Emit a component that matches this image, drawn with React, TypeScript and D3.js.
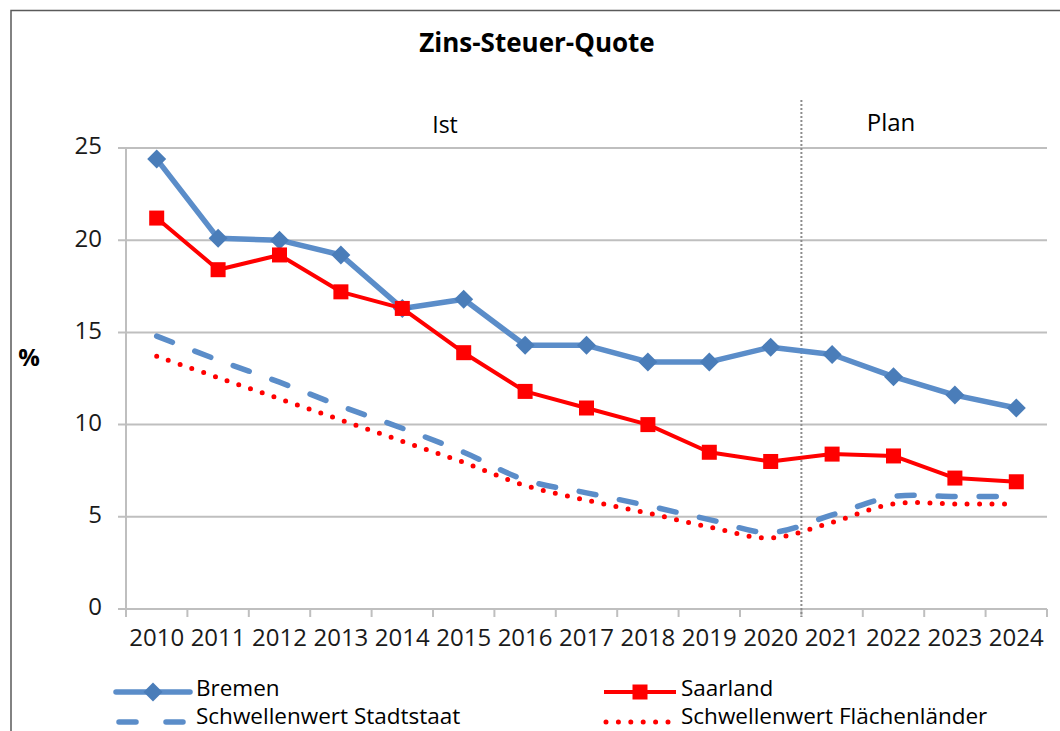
import React from "react";
import * as d3 from "d3";

const years = ["2010","2011","2012","2013","2014","2015","2016","2017","2018","2019","2020","2021","2022","2023","2024"];
const bremen = [24.4,20.1,20.0,19.2,16.3,16.8,14.3,14.3,13.4,13.4,14.2,13.8,12.6,11.6,10.9];
const saarland = [21.2,18.4,19.2,17.2,16.3,13.9,11.8,10.9,10.0,8.5,8.0,8.4,8.3,7.1,6.9];
const stadtstaat = [14.8,13.5,12.3,11.0,9.8,8.5,7.0,6.3,5.6,4.85,4.15,5.1,6.1,6.1,6.1];
const flaechen = [13.7,12.55,11.4,10.25,9.1,7.95,6.7,5.9,5.2,4.45,3.85,4.7,5.7,5.7,5.7];
const yTicks = [0,5,10,15,20,25];
const seriesNames = ["Bremen","Saarland","Schwellenwert Stadtstaat","Schwellenwert Flächenländer"];
const title = "Zins-Steuer-Quote";
const periodLabels = ["Ist","Plan"];

const FONT = "'Open Sans', 'DejaVu Sans', sans-serif";
const BLUE_LINE = "#5B8DC9";
const BLUE_MARK = "#4A7DB9";
const RED = "#FF0000";
const GRID = "#BFBFBF";

export default function App() {
  const left = 126, right = 1047, top = 148, bottom = 609;
  const x = d3.scaleBand<string>().domain(years).range([left, right]).paddingInner(0).paddingOuter(0);
  const bw = x.bandwidth();
  const cx = (i: number) => (x(years[i]) as number) + bw / 2;
  const y = d3.scaleLinear().domain([0, 25]).range([bottom, top]);

  const straight = d3.line<number>().x((_, i) => cx(i)).y(d => y(d));
  const smooth = d3.line<number>().x((_, i) => cx(i)).y(d => y(d)).curve(d3.curveCatmullRom.alpha(0.5));

  const dividerX = (x("2021") as number);
  const boundaries = d3.range(years.length + 1).map(i => left + i * bw);

  const diamond = (px: number, py: number, r: number) =>
    `M${px},${py - r}L${px + r},${py}L${px},${py + r}L${px - r},${py}Z`;

  const legRow1 = 690;
  const legRow2 = 718;
  const legFont = 22.5;

  return (
    <svg width={1060} height={731} style={{ position: "absolute", left: 0, top: 0, background: "#fff" }}>
      <rect x={0} y={0} width={1060} height={731} fill="#fff" />
      {/* frame */}
      <path d="M11,731V10.5H1060" fill="none" stroke="#5a5a5a" strokeWidth={1.5} />
      {/* title */}
      <text x={537} y={45} textAnchor="middle" dominantBaseline="middle" fontFamily={FONT} fontWeight="bold" fontSize={26} fill="#000">{title}</text>
      {/* gridlines */}
      {yTicks.map(t => (
        <line key={t} x1={118} x2={right} y1={y(t)} y2={y(t)} stroke={GRID} strokeWidth={2} />
      ))}
      {/* y axis */}
      <line x1={left} x2={left} y1={top} y2={bottom} stroke={GRID} strokeWidth={2} />
      {/* x ticks */}
      {boundaries.map((bx, i) => (
        <line key={i} x1={bx} x2={bx} y1={bottom} y2={bottom + 8} stroke={GRID} strokeWidth={2} />
      ))}
      {/* y labels */}
      {yTicks.map(t => (
        <text key={t} x={102} y={y(t)} textAnchor="end" dominantBaseline="middle" fontFamily={FONT} fontSize={24} fill="#1a1a1a">{t}</text>
      ))}
      <text x={29} y={360} textAnchor="middle" dominantBaseline="middle" fontFamily={FONT} fontWeight="bold" fontSize={24} fill="#000">%</text>
      {/* x labels */}
      {years.map((yr, i) => (
        <text key={yr} x={cx(i)} y={640} textAnchor="middle" dominantBaseline="middle" fontFamily={FONT} fontSize={24} fill="#1a1a1a">{yr}</text>
      ))}
      {/* divider */}
      <line x1={dividerX} x2={dividerX} y1={100} y2={617} stroke="#8c8c8c" strokeWidth={2} strokeDasharray="2,2" />
      <text x={445} y={127} textAnchor="middle" dominantBaseline="middle" fontFamily={FONT} fontSize={23} fill="#000">{periodLabels[0]}</text>
      <text x={891} y={125} textAnchor="middle" dominantBaseline="middle" fontFamily={FONT} fontSize={24} fill="#000">{periodLabels[1]}</text>

      {/* threshold lines */}
      <path d={smooth(stadtstaat) || ""} fill="none" stroke={BLUE_LINE} strokeWidth={5.5} strokeDasharray="17,24" strokeLinecap="round" />
      <path d={smooth(flaechen) || ""} fill="none" stroke={RED} strokeWidth={5} strokeDasharray="0,12.4" strokeLinecap="round" />

      {/* Bremen */}
      <path d={straight(bremen) || ""} fill="none" stroke={BLUE_LINE} strokeWidth={5.5} strokeLinejoin="round" />
      {bremen.map((v, i) => (
        <path key={i} d={diamond(cx(i), y(v), 9.5)} fill={BLUE_MARK} />
      ))}
      {/* Saarland */}
      <path d={straight(saarland) || ""} fill="none" stroke={RED} strokeWidth={4} strokeLinejoin="round" />
      {saarland.map((v, i) => (
        <rect key={i} x={cx(i) - 7.5} y={y(v) - 7.5} width={15} height={15} fill={RED} />
      ))}

      {/* legend */}
      <g>
        <line x1={116} x2={190} y1={legRow1 + 2} y2={legRow1 + 2} stroke={BLUE_LINE} strokeWidth={5.5} strokeLinecap="round" />
        <path d={diamond(153, legRow1 + 2, 9.5)} fill={BLUE_MARK} />
        <text x={196} y={legRow1} dominantBaseline="middle" fontFamily={FONT} fontSize={legFont} fill="#000">{seriesNames[0]}</text>

        <line x1={604} x2={676} y1={legRow1 + 2} y2={legRow1 + 2} stroke={RED} strokeWidth={4} />
        <rect x={632.5} y={legRow1 - 5.5} width={15} height={15} fill={RED} />
        <text x={681} y={legRow1} dominantBaseline="middle" fontFamily={FONT} fontSize={legFont} fill="#000">{seriesNames[1]}</text>

        <line x1={119} x2={188} y1={legRow2 + 4} y2={legRow2 + 4} stroke={BLUE_LINE} strokeWidth={5.5} strokeDasharray="17,30" strokeLinecap="round" />
        <text x={196} y={legRow2} dominantBaseline="middle" fontFamily={FONT} fontSize={legFont} fill="#000">{seriesNames[2]}</text>

        <line x1={606} x2={676} y1={legRow2 + 4} y2={legRow2 + 4} stroke={RED} strokeWidth={5} strokeDasharray="0,12.4" strokeLinecap="round" />
        <text x={681} y={legRow2} dominantBaseline="middle" fontFamily={FONT} fontSize={legFont} fill="#000">{seriesNames[3]}</text>
      </g>
    </svg>
  );
}
